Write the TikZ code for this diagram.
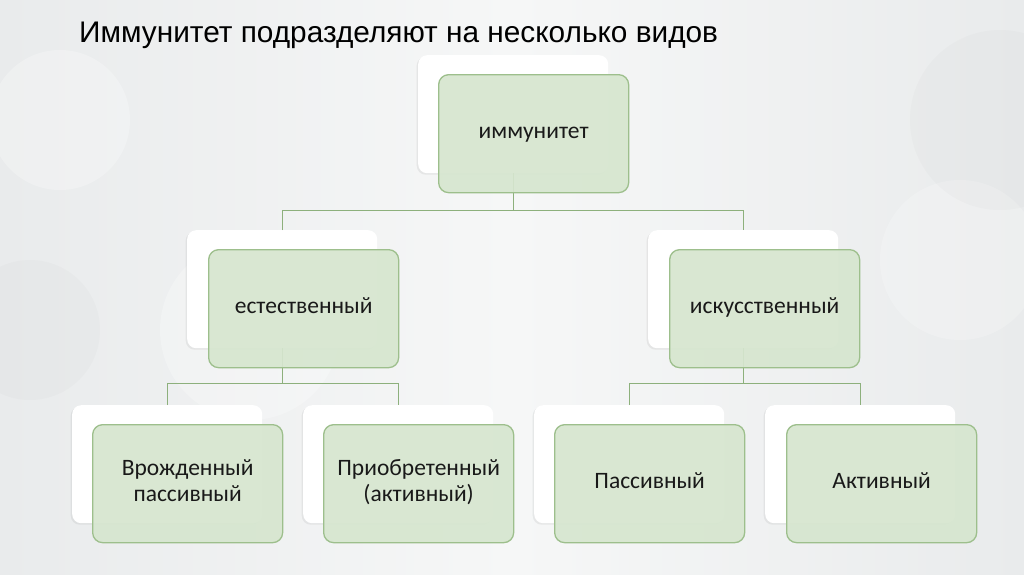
\documentclass[tikz,border=0pt]{standalone}
\usepackage{fontspec}
\setmainfont{Carlito}
\newfontfamily\titlefont{Liberation Sans}
\usetikzlibrary{shadows,calc}
\definecolor{gfill}{HTML}{D6E6CF}
\definecolor{gline}{HTML}{9DBF8C}
\definecolor{connc}{HTML}{8DB07C}
\definecolor{bgl}{HTML}{E9EBEC}
\definecolor{bgm}{HTML}{F6F7F7}
\newcommand{\boxline}[1]{\strut#1}
\begin{document}
\begin{tikzpicture}[x=1pt,y=-1pt,
  backbox/.style={fill=white, rounded corners=9pt, minimum width=190pt, minimum height=118pt,
    anchor=north west, inner sep=0pt,
    drop shadow={shadow xshift=-1.5pt, shadow yshift=-1.5pt, opacity=0.12}},
  greenbox/.style={draw=gline, line width=1.3pt, fill=gfill, fill opacity=0.92, text opacity=1,
    rounded corners=10pt, minimum width=190pt, minimum height=118pt, anchor=north west,
    inner sep=0pt, align=center, text=black!90, font=\fontsize{23.5}{26}\selectfont},
  connline/.style={draw=connc, line width=1.3pt}]
\useasboundingbox (0,0) rectangle (1024,574);
% background
\shade[left color=bgl, right color=bgl, middle color=bgm] (0,0) rectangle (1024,574);
\fill[white, opacity=0.25] (250,330) circle (90);
\fill[white, opacity=0.25] (60,120) circle (70);
\fill[white, opacity=0.20] (960,260) circle (80);
\fill[gray, opacity=0.03] (1000,120) circle (90);
\fill[gray, opacity=0.03] (30,330) circle (70);
% title
\node[anchor=base west, inner sep=0pt, font=\titlefont\fontsize{29.8}{34}\selectfont, text=black] (title) at (79,42) {Иммунитет подразделяют на несколько видов};
% back boxes
\node[backbox] (bTop) at (418,55) {};
\node[backbox] (bL) at (187,230) {};
\node[backbox] (bR) at (648,230) {};
\node[backbox] (bLL) at (72,405) {};
\node[backbox] (bLR) at (303,405) {};
\node[backbox] (bRL) at (534,405) {};
\node[backbox] (bRR) at (765,405) {};
% connectors
\coordinate (j1) at ($(bTop.south)+(0,37)$);
\coordinate (j2) at ($(bL.south)+(0,35)$);
\coordinate (j3) at ($(bR.south)+(0,35)$);
\draw[connline] (bTop.south) -- (j1);
\draw[connline] (bL.north) |- (j1) -| (bR.north);
\draw[connline] (bL.south) -- (j2);
\draw[connline] (bLL.north) |- (j2) -| (bLR.north);
\draw[connline] (bR.south) -- (j3);
\draw[connline] (bRL.north) |- (j3) -| (bRR.north);
% green boxes
\node[greenbox] (gTop) at (438,74) {\boxline{иммунитет}};
\node[greenbox] (gL) at (208,249) {\boxline{естественный}};
\node[greenbox] (gR) at (669,249) {\boxline{искусственный}};
\node[greenbox] (gLL) at (92,424) {\boxline{Врожденный}\\\boxline{пассивный}};
\node[greenbox] (gLR) at (323,424) {\boxline{Приобретенный}\\\boxline{(активный)}};
\node[greenbox] (gRL) at (554,424) {\boxline{Пассивный}};
\node[greenbox] (gRR) at (786,424) {\boxline{Активный}};
\end{tikzpicture}
\end{document}
